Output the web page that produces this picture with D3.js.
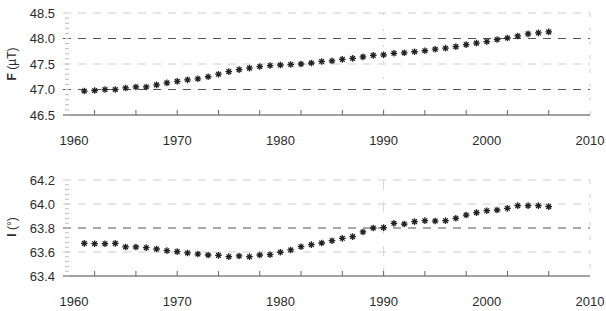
<!DOCTYPE html>
<html>
<head>
<meta charset="utf-8">
<script src="https://cdn.jsdelivr.net/npm/d3@7"></script>
<style>
  body { margin: 0; background: #fff; }
  svg { font-family: "Liberation Sans", Arial, sans-serif; }
</style>
</head>
<body>
<svg id="chart" width="606" height="311"></svg>
<script>
// yearly values 1961 - 2006
var years = d3.range(1961, 2007);

var fValues = [
  46.97, 46.98, 47.00, 47.00, 47.03, 47.05, 47.05, 47.09, 47.13, 47.16, 47.19, 47.21,
  47.25, 47.30, 47.35, 47.39, 47.42, 47.45, 47.47, 47.48, 47.49, 47.50, 47.52, 47.55,
  47.56, 47.59, 47.61, 47.64, 47.67, 47.68, 47.71,
  47.72, 47.74, 47.76, 47.79, 47.81, 47.84, 47.88, 47.91, 47.94, 47.98, 48.01, 48.05,
  48.09, 48.11, 48.13
];

var iValues = [
  63.672, 63.669, 63.669, 63.672, 63.642, 63.642, 63.636, 63.625, 63.611, 63.603, 63.592, 63.583,
  63.575, 63.572, 63.561, 63.567, 63.561, 63.575, 63.578, 63.598, 63.617, 63.644, 63.661, 63.675,
  63.694, 63.714, 63.728, 63.767, 63.800, 63.803, 63.839,
  63.833, 63.853, 63.861, 63.858, 63.861, 63.881, 63.908, 63.928, 63.944, 63.950, 63.964, 63.986,
  63.986, 63.986, 63.978
];

var xTicks = [1960, 1970, 1980, 1990, 2000, 2010];
var fTicks = [46.5, 47.0, 47.5, 48.0, 48.5];
var iTicks = [63.4, 63.6, 63.8, 64.0, 64.2];
var fMajor = [47.0, 48.0];
var iMajor = [63.8];

var svg = d3.select("#chart");
var ink = "#2b2b2b";

var x = d3.scaleLinear().domain([1960, 2010]).range([74, 590]);
var xLeft = 63;

// 8 spoke asterisk, like the scanned markers
var star = {
  draw: function (ctx, size) {
    var r = Math.sqrt(size) / 2;
    for (var a = 0; a < 4; a++) {
      var ang = a * Math.PI / 4;
      var dx = r * Math.cos(ang), dy = r * Math.sin(ang);
      ctx.moveTo(-dx, -dy);
      ctx.lineTo(dx, dy);
    }
  }
};

var panels = [
  { values: fValues, ticks: fTicks, major: fMajor, fmt: d3.format(".1f"),
    y: d3.scaleLinear().domain([46.5, 48.5]).range([115, 13]),
    label: "F", unit: " (\u00b5T)", labelY: 64 },
  { values: iValues, ticks: iTicks, major: iMajor, fmt: d3.format(".1f"),
    y: d3.scaleLinear().domain([63.4, 64.2]).range([276, 180]),
    label: "I", unit: " (\u00b0)", labelY: 227 }
];

panels.forEach(function (p, k) {
  var g = svg.append("g");
  var y0 = p.y.range()[0];
  var y1 = p.y.range()[1];

  // horizontal dashed grid
  g.selectAll("line.grid")
    .data(p.ticks.slice(1))
    .enter().append("line")
    .attr("class", "grid")
    .attr("x1", xLeft).attr("x2", x(2010))
    .attr("y1", function (d) { return p.y(d); })
    .attr("y2", function (d) { return p.y(d); })
    .style("stroke", function (d) { return p.major.indexOf(d) >= 0 ? "#555" : "#c8c8c8"; })
    .style("stroke-width", function (d) { return p.major.indexOf(d) >= 0 ? 1 : 0.9; })
    .style("stroke-dasharray", "8,7");

  // faint vertical marks at 1990 and right edge
  g.append("line")
    .attr("x1", x(1990)).attr("x2", x(1990))
    .attr("y1", y1).attr("y2", y0)
    .style("stroke", "#d4d4d4").style("stroke-dasharray", k ? "10,12" : "2,14");
  g.append("line")
    .attr("x1", x(2010)).attr("x2", x(2010))
    .attr("y1", y1).attr("y2", y0)
    .style("stroke", "#d0d0d0").style("stroke-dasharray", "4,10");

  // bottom axis line
  g.append("line")
    .attr("x1", xLeft).attr("x2", x(2010))
    .attr("y1", y0).attr("y2", y0)
    .style("stroke", "#444").style("stroke-width", 1);

  // x ticks, pointing up
  g.selectAll("line.xt")
    .data(d3.range(1962, 2010, 4))
    .enter().append("line")
    .attr("class", "xt")
    .attr("x1", function (d) { return x(d); })
    .attr("x2", function (d) { return x(d); })
    .attr("y1", y0).attr("y2", y0 - 5)
    .style("stroke", "#666");

  g.selectAll("text.xl")
    .data(xTicks)
    .enter().append("text")
    .attr("class", "xl")
    .attr("x", function (d) { return x(d); })
    .attr("y", y0 + 30)
    .attr("text-anchor", "middle")
    .style("font-size", "13px")
    .style("fill", ink)
    .text(function (d) { return d; });

  // small left ticks
  g.selectAll("line.yt")
    .data(d3.range(p.ticks[0], p.ticks[p.ticks.length - 1], (p.ticks[1] - p.ticks[0]) / 5))
    .enter().append("line")
    .attr("class", "yt")
    .attr("x1", xLeft + 2).attr("x2", xLeft + 6)
    .attr("y1", function (d) { return p.y(d); })
    .attr("y2", function (d) { return p.y(d); })
    .style("stroke", "#bbb");

  g.selectAll("text.yl")
    .data(p.ticks)
    .enter().append("text")
    .attr("class", "yl")
    .attr("x", 55)
    .attr("y", function (d) { return p.y(d); })
    .attr("dy", "0.35em")
    .attr("text-anchor", "end")
    .style("font-size", "13px")
    .style("fill", ink)
    .text(function (d) { return p.fmt(d); });

  var t = g.append("text")
    .attr("transform", "translate(16," + p.labelY + ") rotate(-90)")
    .attr("text-anchor", "middle")
    .style("font-size", "12px")
    .style("fill", ink);
  t.append("tspan").style("font-weight", "bold").text(p.label);
  t.append("tspan").text(p.unit);

  // asterisk markers
  var sym = d3.symbol().type(star).size(44);
  g.selectAll("path.pt")
    .data(years.map(function (yr, i) { return [yr, p.values[i]]; }))
    .enter().append("path")
    .attr("class", "pt")
    .attr("d", sym)
    .attr("transform", function (d) { return "translate(" + x(d[0]) + "," + p.y(d[1]) + ")"; })
    .style("fill", "none")
    .style("stroke", "#222")
    .style("stroke-width", 1.3);
});
</script>
</body>
</html>
